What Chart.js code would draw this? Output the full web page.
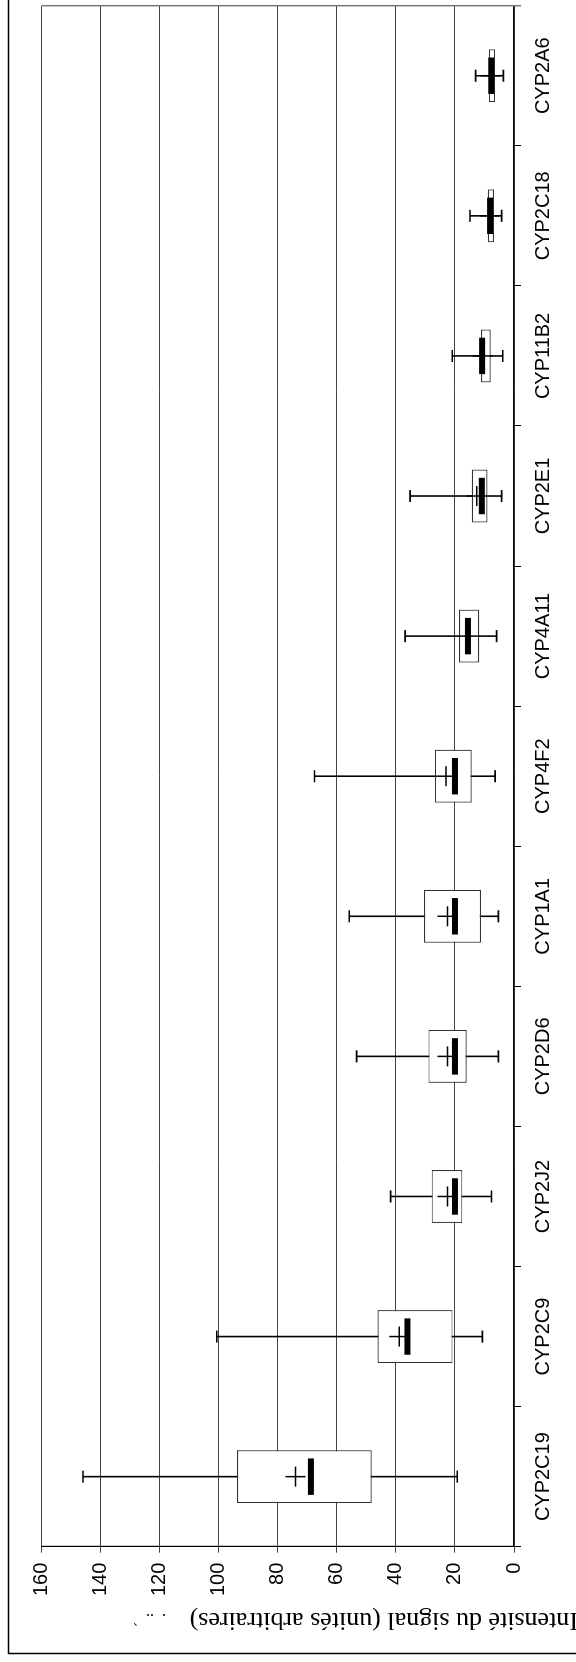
<!DOCTYPE html>
<html>
<head>
<meta charset="utf-8">
<script src="https://cdn.jsdelivr.net/npm/chart.js@4"></script>
<style>
    html, body { margin: 0; padding: 0; background: #fff; overflow: hidden; }
    body { width: 576px; height: 1662px; position: relative; }
    /* the chart is drawn upright, then turned a quarter turn to the left */
    #wrap {
        position: absolute; left: 0; top: 0;
        width: 1662px; height: 576px;
        transform-origin: 0 0;
        transform: translateY(1662px) rotate(-90deg);
    }
</style>
</head>
<body>
<div id="wrap"><canvas id="box-chart" width="1662" height="576"></canvas></div>
<script>
// Data
const categories = ['CYP2C19', 'CYP2C9', 'CYP2J2', 'CYP2D6', 'CYP1A1', 'CYP4F2', 'CYP4A11', 'CYP2E1', 'CYP11B2', 'CYP2C18', 'CYP2A6'];
const minVals    = [19.2, 10.7, 7.6, 5.3, 5.3, 6.4, 5.9, 4.2, 3.8, 4.2, 3.6];
const q1Vals     = [48.2, 20.8, 17.5, 16.0, 11.2, 14.3, 11.8, 9.0, 7.9, 6.8, 6.4];
const medianVals = [68.8, 36.1, 20.0, 20.0, 20.0, 20.0, 15.6, 10.9, 10.8, 8.1, 7.7];
const q3Vals     = [93.8, 46.2, 27.9, 29.0, 30.5, 26.8, 18.6, 14.3, 11.2, 8.9, 8.5];
const maxVals    = [146.0, 100.7, 41.8, 53.3, 55.8, 67.6, 36.9, 35.2, 20.9, 14.9, 13.0];
const meanVals   = [74.0, 38.9, 22.5, 22.5, 22.5, 23.0, 15.2, 12.6, 10.6, 8.3, 7.9];
const yTicks = [0, 20, 40, 60, 80, 100, 120, 140, 160];
const yTitle = 'Intensité du signal (unités arbitraires)';

// Whiskers under the boxes, median bar and mean cross on top
const boxParts = {
    id: 'boxParts',
    beforeDatasetsDraw(chart) {
        const { ctx, scales: { x, y } } = chart;
        const band = x.getPixelForValue(1) - x.getPixelForValue(0);
        const cap = band * 0.043;
        ctx.save();
        ctx.strokeStyle = '#000';
        ctx.lineWidth = 1.6;
        categories.forEach((c, i) => {
            const cx = x.getPixelForValue(i);
            const lo = y.getPixelForValue(minVals[i]);
            const hi = y.getPixelForValue(maxVals[i]);
            ctx.beginPath();
            ctx.moveTo(cx, lo); ctx.lineTo(cx, hi);
            ctx.moveTo(cx - cap, lo); ctx.lineTo(cx + cap, lo);
            ctx.moveTo(cx - cap, hi); ctx.lineTo(cx + cap, hi);
            ctx.stroke();
        });
        ctx.restore();
    },
    afterDatasetsDraw(chart) {
        const { ctx, scales: { x, y } } = chart;
        const band = x.getPixelForValue(1) - x.getPixelForValue(0);
        const medW = band * 0.26;
        ctx.save();
        ctx.fillStyle = '#000';
        ctx.strokeStyle = '#000';
        ctx.lineWidth = 1.5;
        categories.forEach((c, i) => {
            const cx = x.getPixelForValue(i);
            const ym = y.getPixelForValue(medianVals[i]);
            ctx.fillRect(cx - medW / 2, ym - 3, medW, 6);
            const yMean = y.getPixelForValue(meanVals[i]);
            ctx.beginPath();
            ctx.moveTo(cx - 10, yMean); ctx.lineTo(cx + 10, yMean);
            ctx.moveTo(cx, yMean - 10); ctx.lineTo(cx, yMean + 10);
            ctx.stroke();
        });
        ctx.restore();
    },
    afterDraw(chart) {
        const { ctx, chartArea } = chart;
        ctx.save();
        // right edge of the plot
        ctx.strokeStyle = '#777';
        ctx.lineWidth = 1.5;
        ctx.beginPath();
        ctx.moveTo(chartArea.right, chartArea.top);
        ctx.lineTo(chartArea.right, chartArea.bottom + 7);
        ctx.stroke();
        // outer frame, only two sides show
        ctx.strokeStyle = '#000';
        ctx.lineWidth = 1.5;
        ctx.beginPath();
        ctx.moveTo(1662, 8.5); ctx.lineTo(8.5, 8.5); ctx.lineTo(8.5, 576);
        ctx.stroke();
        // axis title (its first letter runs off the edge, as in the source)
        ctx.fillStyle = '#000';
        ctx.font = '26px "Liberation Serif", "Times New Roman", serif';
        ctx.textAlign = 'left';
        ctx.textBaseline = 'middle';
        ctx.translate(42, 578);
        ctx.rotate(-Math.PI / 2);
        ctx.fillText(yTitle, 0, 0);
        ctx.font = '16px "Liberation Serif", "Times New Roman", serif';
        ctx.fillText('.  ..  `', 412, 2);
        ctx.restore();
    }
};

const chart = new Chart(document.getElementById('box-chart'), {
    type: 'bar',
    data: {
        labels: categories,
        datasets: [{
            label: 'Boîtes',
            data: categories.map((c, i) => [q1Vals[i], q3Vals[i]]),
            backgroundColor: '#fff',
            borderColor: '#333',
            borderWidth: 1.2,
            borderSkipped: false,
            barPercentage: 0.378,
            categoryPercentage: 1
        }]
    },
    options: {
        responsive: false,
        animation: false,
        devicePixelRatio: 1,
        layout: { padding: { left: 0, right: 5.7, top: 41.7, bottom: 0 } },
        plugins: { legend: { display: false }, tooltip: { enabled: false } },
        scales: {
            x: {
                offset: true,
                afterFit: scale => { scale.height = 62; },
                grid: { display: true, drawOnChartArea: false, offset: true, tickLength: 7, color: '#000' },
                border: { color: '#000', width: 1.2 },
                ticks: {
                    color: '#000',
                    padding: 10,
                    maxRotation: 0,
                    font: { family: '"Liberation Sans", Arial, sans-serif', size: 20 }
                }
            },
            y: {
                min: 0,
                max: 160,
                afterFit: scale => { scale.width = 115.3; },
                afterBuildTicks: scale => { scale.ticks = yTicks.map(v => ({ value: v })); },
                grid: { color: '#444', tickLength: 6 },
                border: { color: '#000', width: 1.2 },
                ticks: {
                    color: '#000',
                    padding: 10,
                    font: { family: '"Liberation Sans", Arial, sans-serif', size: 20 }
                }
            }
        }
    },
    plugins: [boxParts]
});
</script>
</body>
</html>
